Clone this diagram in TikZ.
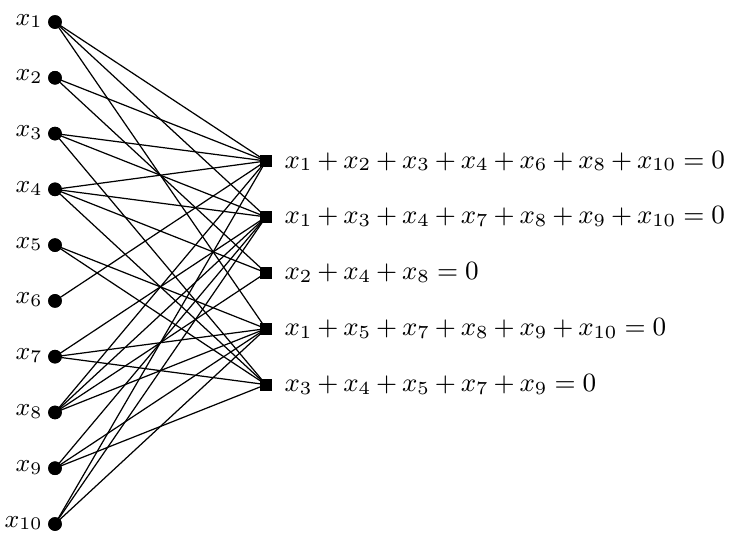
\RequirePackage{fix-cm}
\documentclass[tikz,border=0pt]{standalone}
\usetikzlibrary{calc}
% equation with slightly tighter spacing around + and =
\newcommand\tightmath[1]{$\medmuskip=3.2mu\relax\thickmuskip=4.6mu\relax #1$}
\begin{document}
\begin{tikzpicture}[x=0.3676pt,y=-0.3676pt,
  varnode/.style={circle,fill=black,inner sep=0pt,minimum size=5pt},
  chknode/.style={rectangle,fill=black,inner sep=0pt,minimum size=4.4pt},
  varlabel/.style={anchor=base east,inner sep=0pt,font=\fontsize{9.3}{11}\selectfont},
  eqlabel/.style={anchor=west,inner sep=0pt,font=\fontsize{9.7}{11}\selectfont},
  edge/.style={black,line width=0.45pt}]
\useasboundingbox (0,0) rectangle (732,533);
% variable nodes
\foreach \i in {1,...,10}{
  \node[varnode] (v\i) at (55,{22+(\i-1)*55.78}) {};
  \node[varlabel] (lv\i) at ($(v\i)+(-12,3)$) {$x_{\i}$};
}
% check nodes
\foreach \j in {1,...,5}{
  \node[chknode] (c\j) at (266,{161+(\j-1)*55.9}) {};
}
\node[eqlabel] (e1) at ($(c1)+(18,0)$) {\tightmath{x_1+x_2+x_3+x_4+x_6+x_8+x_{10}=0}};
\node[eqlabel] (e2) at ($(c2)+(18,0)$) {\tightmath{x_1+x_3+x_4+x_7+x_8+x_9+x_{10}=0}};
\node[eqlabel] (e3) at ($(c3)+(18,0)$) {\tightmath{x_2+x_4+x_8=0}};
\node[eqlabel] (e4) at ($(c4)+(18,0)$) {\tightmath{x_1+x_5+x_7+x_8+x_9+x_{10}=0}};
\node[eqlabel] (e5) at ($(c5)+(18,0)$) {\tightmath{x_3+x_4+x_5+x_7+x_9=0}};
% edges of the Tanner graph
\foreach \c/\vs in {1/{1,2,3,4,6,8,10},2/{1,3,4,7,8,9,10},3/{2,4,8},4/{1,5,7,8,9,10},5/{3,4,5,7,9}}{
  \foreach \v in \vs {
    \draw[edge] (v\v.center) -- (c\c.center);
  }
}
% redraw nodes on top of the edges
\foreach \i in {1,...,10}{ \node[varnode] at (v\i) {}; }
\foreach \j in {1,...,5}{ \node[chknode] at (c\j) {}; }
\end{tikzpicture}
\end{document}
